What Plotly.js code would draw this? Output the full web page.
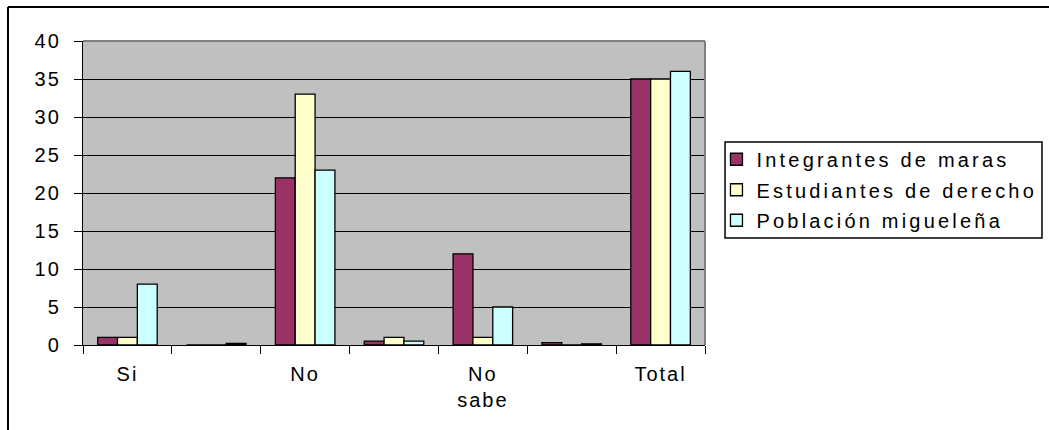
<!DOCTYPE html>
<html>
<head>
<meta charset="utf-8">
<script src="https://cdn.plot.ly/plotly-3.0.1.min.js"></script>
<style>
  html, body { margin: 0; padding: 0; background: #ffffff; }
  #chart { width: 1049px; height: 430px; }
  svg text { letter-spacing: 2px; }
  svg g.legend text, svg text.legendtext { letter-spacing: 3.2px; }
</style>
</head>
<body>
<div id="chart"></div>
<script>
// Category labels (7 slots; slots 2, 4, 6 carry no label)
const categories = ["Si", "", "No", "", "No<br>sabe", "", "Total"];

// Series values
const seriesNames = ["Integrantes de maras", "Estudiantes de derecho", "Población migueleña"];
const marasValues     = [1, 0, 22, 0.5, 12, 0.3, 35];
const derechoValues   = [1, 0, 33, 1,   1,  0,   35];
const poblacionValues = [8, 0.2, 23, 0.5, 5, 0.15, 36];

const seriesColors = ["#993366", "#FFFFCC", "#CCFFFF"];
const yTicks = [0, 5, 10, 15, 20, 25, 30, 35, 40];

const xIdx = categories.map((_, i) => i);
const boundaries = [];
for (let i = 0; i <= categories.length; i++) boundaries.push(i - 0.5);

const FONT = "Liberation Sans, Arial, sans-serif";
const values = [marasValues, derechoValues, poblacionValues];

const traces = values.map((v, k) => ({
  type: "bar",
  name: seriesNames[k],
  legendgroup: "g" + k,
  x: xIdx,
  y: v,
  marker: { color: seriesColors[k], line: { color: "#000000", width: 1.3 } },
  hoverinfo: "x+y+name"
}));

const layout = {
  width: 1049,
  height: 430,
  margin: { l: 83, r: 344, t: 41, b: 85, pad: 0 },
  paper_bgcolor: "#ffffff",
  plot_bgcolor: "#C0C0C0",
  barmode: "group",
  bargap: 0.33,
  bargroupgap: 0,
  font: { family: FONT, size: 20, color: "#000000" },
  xaxis: {
    range: [-0.5, categories.length - 0.5],
    tickmode: "array",
    tickvals: boundaries,
    ticktext: boundaries.map(() => ""),
    ticks: "outside",
    ticklen: 8,
    tickwidth: 1.3,
    tickcolor: "#000000",
    showgrid: false,
    zeroline: false,
    showline: true,
    linecolor: "#000000",
    linewidth: 1.3,
    fixedrange: true
  },
  xaxis2: {
    overlaying: "x",
    matches: "x",
    side: "bottom",
    range: [-0.5, categories.length - 0.5],
    tickmode: "array",
    tickvals: xIdx,
    ticktext: categories,
    ticks: "",
    showgrid: false,
    zeroline: false,
    showline: false,
    ticklabelstandoff: 15,
    tickfont: { family: FONT, size: 20, color: "#000000" },
    fixedrange: true
  },
  yaxis: {
    range: [0, 40],
    tickmode: "array",
    tickvals: yTicks,
    ticktext: yTicks.map(String),
    ticks: "outside",
    ticklen: 8,
    tickwidth: 1.3,
    tickcolor: "#000000",
    showgrid: true,
    gridcolor: "#000000",
    gridwidth: 1.2,
    zeroline: false,
    showline: true,
    linecolor: "#000000",
    linewidth: 1.3,
    ticklabelstandoff: 9,
    tickfont: { family: FONT, size: 20, color: "#000000" },
    fixedrange: true
  },
  showlegend: true,
  legend: {
    xref: "container",
    yref: "container",
    x: 0.683,
    xanchor: "left",
    y: 0.675,
    yanchor: "top",
    bgcolor: "rgba(0,0,0,0)",
    borderwidth: 0,
    font: { family: FONT, size: 20, color: "#000000" },
    itemwidth: 30,
    tracegroupgap: 1.5,
    traceorder: "grouped"
  },
  shapes: [
    // plot-area border (top and right, gray)
    { type: "line", xref: "paper", yref: "paper", x0: 0, x1: 1, y0: 1, y1: 1,
      line: { color: "#808080", width: 2 } },
    { type: "line", xref: "paper", yref: "paper", x0: 1, x1: 1, y0: 0, y1: 1,
      line: { color: "#808080", width: 2 } },
    // outer chart frame (left and top edges visible)
    { type: "line", xref: "paper", yref: "paper", x0: -0.1206, x1: -0.1206, y0: -0.3, y1: 1.112,
      line: { color: "#000000", width: 2 } },
    { type: "line", xref: "paper", yref: "paper", x0: -0.1206, x1: 1.6, y0: 1.112, y1: 1.112,
      line: { color: "#000000", width: 2 } },
    // legend frame
    { type: "rect", xref: "paper", yref: "paper", x0: 1.0322, x1: 1.5418, y0: 0.352, y1: 0.668,
      fillcolor: "#ffffff", line: { color: "#000000", width: 1.5 }, layer: "below" }
  ]
};

// dummy trace to activate xaxis2 for the category labels
traces.push({
  type: "scatter", x: xIdx, y: xIdx.map(() => null), xaxis: "x2", yaxis: "y",
  showlegend: false, hoverinfo: "skip", mode: "markers"
});

Plotly.newPlot("chart", traces, layout, { displayModeBar: false });
</script>
</body>
</html>
